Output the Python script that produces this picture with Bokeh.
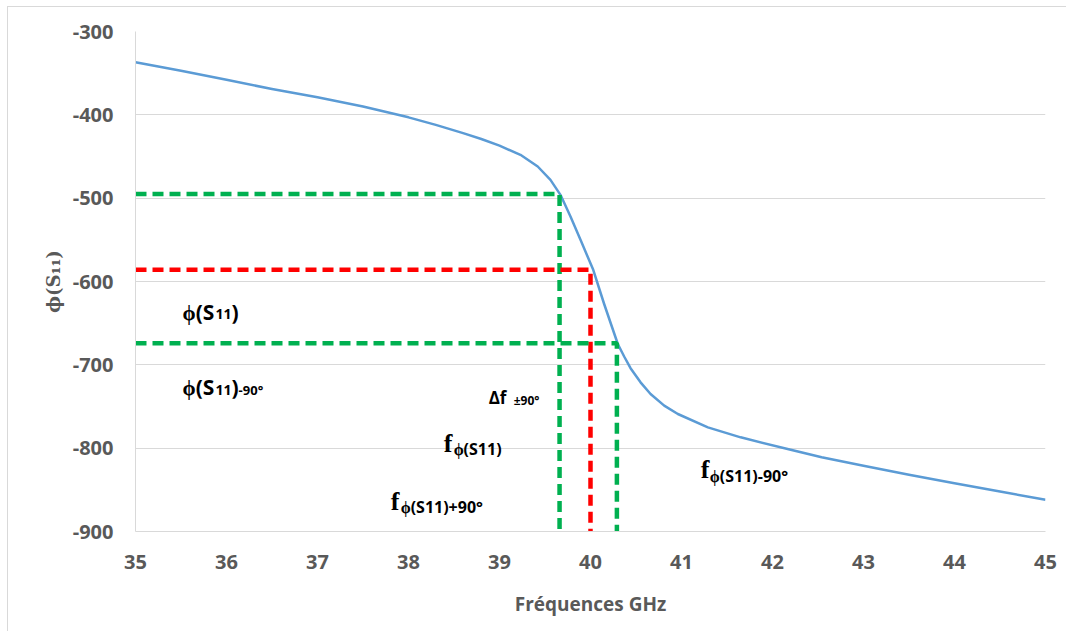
from bokeh.plotting import figure
from bokeh.models import Range1d, Label, FixedTicker, PrintfTickFormatter
from bokeh.embed import file_html
from bokeh.resources import INLINE

# ---- data ----
freq_ghz = [35.0, 35.5, 36.0, 36.5, 37.0, 37.5, 38.0, 38.3, 38.6, 38.8, 39.0, 39.23,
            39.42, 39.56, 39.67, 39.78, 39.89, 40.03, 40.15, 40.3, 40.37, 40.44,
            40.55, 40.66, 40.81, 40.96, 41.29, 41.65, 42.2, 42.54, 43.0, 43.5,
            44.0, 44.5, 45.0]
phase_deg = [-337, -347, -358, -369, -379, -390, -403, -412, -422, -429, -437, -448,
             -462, -478, -496, -522, -550, -586, -627, -675, -690, -704,
             -721, -735, -749, -759, -775, -787, -802, -811, -821, -832,
             -842, -852, -862]

guide_freq = [39.66, 40.0, 40.29]
guide_phase = [-495, -586, -674]
guide_color = ["#00B050", "#FF0000", "#00B050"]

x_ticks = [35, 36, 37, 38, 39, 40, 41, 42, 43, 44, 45]
y_ticks = [-900, -800, -700, -600, -500, -400, -300]

GRAY = "#595959"
GRID = "#d9d9d9"

p = figure(width=1059, height=625, output_backend="svg", toolbar_location=None,
           x_range=Range1d(35, 45), y_range=Range1d(-900, -300),
           min_border_left=127, min_border_right=22, min_border_top=24, min_border_bottom=101)
p.background_fill_color = "white"
p.border_fill_color = "white"
p.outline_line_color = None
p.styles = {"border-top": "1px solid #d9d9d9", "border-left": "1px solid #d9d9d9",
            "box-sizing": "border-box", "margin-left": "7px", "margin-top": "6px"}

# axes
p.xaxis.ticker = FixedTicker(ticks=x_ticks)
p.yaxis.ticker = FixedTicker(ticks=y_ticks)
p.xaxis.formatter = PrintfTickFormatter(format="%d")
p.yaxis.formatter = PrintfTickFormatter(format="%d")
for ax in (p.xaxis[0], p.yaxis[0]):
    ax.axis_line_color = GRID
    ax.axis_line_width = 1
    ax.major_tick_line_color = None
    ax.minor_tick_line_color = None
    ax.major_tick_out = 0
    ax.major_tick_in = 0
    ax.major_label_text_font = "Open Sans"
    ax.major_label_text_font_style = "bold"
    ax.major_label_text_font_size = "20px"
    ax.major_label_text_color = GRAY

p.xaxis.major_label_standoff = 23
p.yaxis.major_label_standoff = 22
p.xaxis.axis_label = "Fréquences GHz"
p.xaxis.axis_label_text_font = "Open Sans"
p.xaxis.axis_label_text_font_style = "bold"
p.xaxis.axis_label_text_font_size = "19px"
p.xaxis.axis_label_text_color = GRAY
p.xaxis.axis_label_standoff = 19

p.yaxis.axis_label = "ϕ(S₁₁)"
p.yaxis.axis_label_text_font = "DejaVu Serif"
p.yaxis.axis_label_text_font_style = "bold"
p.yaxis.axis_label_text_font_size = "18px"
p.yaxis.axis_label_text_color = GRAY
p.yaxis.axis_label_standoff = 6

p.xgrid.grid_line_color = None
p.ygrid.grid_line_color = GRID
p.ygrid.grid_line_width = 1

# curve
p.line(freq_ghz, phase_deg, line_color="#5B9BD5", line_width=2.5, line_join="round")

# dashed guides
for f, ph, c in zip(guide_freq, guide_phase, guide_color):
    p.line([35, f, f], [ph, ph, -900], line_color=c, line_width=4.5, line_dash="11 6")

# annotations (text pieces with subscripts)
SANS = "Open Sans"
SERIF = "Liberation Serif"
pieces = [
    # phi(S11)
    (35.517, -636.4, "ϕ(S", SANS, 21),
    (35.880, -638.8, "11", SANS, 14),
    (36.056, -636.4, ")", SANS, 21),
    # phi(S11)-90
    (35.517, -726.6, "ϕ(S", SANS, 21),
    (35.880, -729.6, "11", SANS, 14),
    (36.056, -726.6, ")", SANS, 21),
    (36.133, -729.6, "-90°", SANS, 13),
    # delta f
    (38.881, -739.2, "Δf", SANS, 17),
    (39.156, -742.8, "±90°", SANS, 12),
    # f phi(S11)
    (38.386, -794.5, "f", SERIF, 26),
    (38.496, -800.5, "ϕ(S11)", SANS, 16),
    # f phi(S11)+90
    (37.804, -864.3, "f", SERIF, 26),
    (37.914, -870.3, "ϕ(S11)+90°", SANS, 16),
    # f phi(S11)-90
    (41.212, -825.8, "f", SERIF, 26),
    (41.311, -833.0, "ϕ(S11)-90°", SANS, 16),
]
for x, y, t, font, size in pieces:
    p.add_layout(Label(x=x, y=y, text=t, text_font=font, text_font_style="bold",
                       text_font_size=f"{size}px", text_color="black",
                       text_baseline="alphabetic", text_align="left"))

open("out.html", "w").write(file_html(p, INLINE))
